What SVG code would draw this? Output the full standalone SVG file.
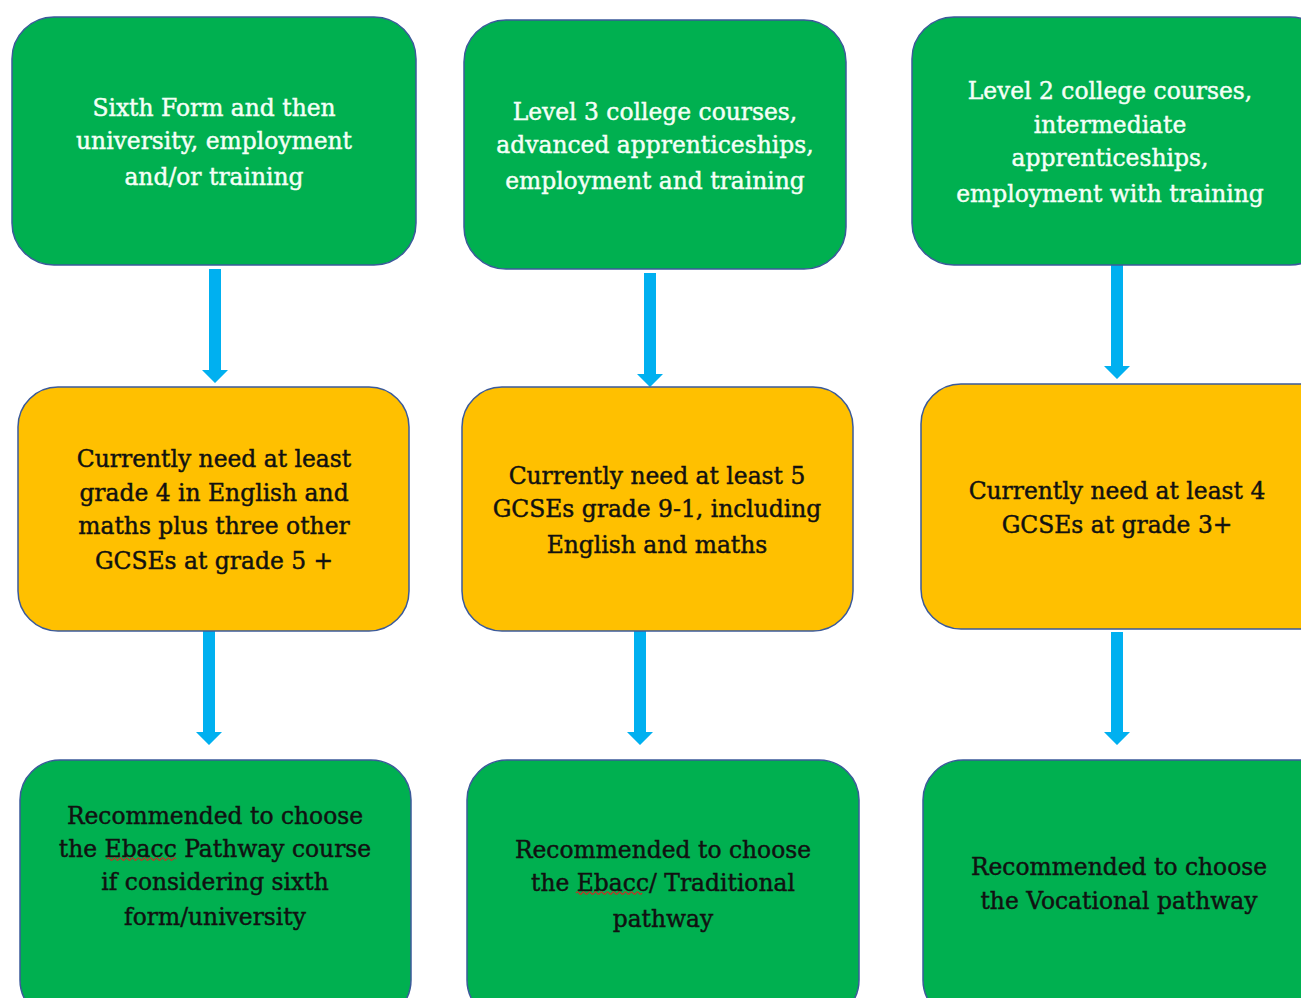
<svg xmlns="http://www.w3.org/2000/svg" width="1301" height="998" viewBox="0 0 1301 998">
<defs>
<style>
.g{fill:#00B050;stroke:#3B5A9A;stroke-width:1.5}
.y{fill:#FFC000;stroke:#3B5A9A;stroke-width:1.5}
text{font-family:"DejaVu Serif","Liberation Serif",serif;font-size:23.4px;text-anchor:middle;stroke-width:0.45px}
.w{fill:#F4FFF6;stroke:#F4FFF6}
.k{fill:#111111;stroke:#111111}
.arr{fill:#00B0F0}
.sq{fill:none;stroke:#E02020;stroke-width:1.2}
</style>
</defs>
<rect width="1301" height="998" fill="#FFFFFF"/>
<g id="connectors">
<path class="arr" d="M209 269 H221 V370 H228 L215 383 L202 370 H209 Z"/>
<path class="arr" d="M644 273 H656 V374 H663 L650 387 L637 374 H644 Z"/>
<path class="arr" d="M1111 265 H1123 V366 H1130 L1117 379 L1104 366 H1111 Z"/>
<path class="arr" d="M203 631 H215 V732 H222 L209 745 L196 732 H203 Z"/>
<path class="arr" d="M634 631 H646 V732 H653 L640 745 L627 732 H634 Z"/>
<path class="arr" d="M1111 632 H1123 V732 H1130 L1117 745 L1104 732 H1111 Z"/>
</g>
<g id="n1">
<rect class="g" x="12" y="17" width="404" height="248" rx="42"/>
<text class="w" x="214" y="116">Sixth Form and then</text>
<text class="w" x="214" y="149">university, employment</text>
<text class="w" x="214" y="185">and/or training</text>
</g>
<g id="n2">
<rect class="g" x="464" y="20" width="382" height="249" rx="42"/>
<text class="w" x="655" y="120">Level 3 college courses,</text>
<text class="w" x="655" y="153">advanced apprenticeships,</text>
<text class="w" x="655" y="189">employment and training</text>
</g>
<g id="n3">
<rect class="g" x="912" y="17" width="420" height="248" rx="42"/>
<text class="w" x="1110" y="99">Level 2 college courses,</text>
<text class="w" x="1110" y="133">intermediate</text>
<text class="w" x="1110" y="166">apprenticeships,</text>
<text class="w" x="1110" y="202">employment with training</text>
</g>
<g id="n4">
<rect class="y" x="18" y="387" width="391" height="244" rx="40"/>
<text class="k" x="214" y="467">Currently need at least</text>
<text class="k" x="214" y="501">grade 4 in English and</text>
<text class="k" x="214" y="534">maths plus three other</text>
<text class="k" x="214" y="569">GCSEs at grade 5 +</text>
</g>
<g id="n5">
<rect class="y" x="462" y="387" width="391" height="244" rx="40"/>
<text class="k" x="657" y="484">Currently need at least 5</text>
<text class="k" x="657" y="517">GCSEs grade 9-1, including</text>
<text class="k" x="657" y="553">English and maths</text>
</g>
<g id="n6">
<rect class="y" x="921" y="384" width="420" height="245" rx="40"/>
<text class="k" x="1117" y="499">Currently need at least 4</text>
<text class="k" x="1117" y="533">GCSEs at grade 3+</text>
</g>
<g id="n7">
<rect class="g" x="20" y="760" width="391" height="260" rx="40"/>
<text class="k" x="215" y="824">Recommended to choose</text>
<text class="k" x="215" y="857">the Ebacc Pathway course</text>
<text class="k" x="215" y="890">if considering sixth</text>
<text class="k" x="215" y="925">form/university</text>
<path class="sq" d="M107 859 q1.5 -2.5 3 0 t3 0 t3 0 t3 0 t3 0 t3 0 t3 0 t3 0 t3 0 t3 0 t3 0 t3 0 t3 0 t3 0 t3 0 t3 0 t3 0 t3 0 t3 0 t3 0 t3 0 t3 0 t3 0"/>
</g>
<g id="n8">
<rect class="g" x="467" y="760" width="392" height="260" rx="40"/>
<text class="k" x="663" y="858">Recommended to choose</text>
<text class="k" x="663" y="891">the Ebacc/ Traditional</text>
<text class="k" x="663" y="927">pathway</text>
<path class="sq" d="M576 893 q1.5 -2.5 3 0 t3 0 t3 0 t3 0 t3 0 t3 0 t3 0 t3 0 t3 0 t3 0 t3 0 t3 0 t3 0 t3 0 t3 0 t3 0 t3 0 t3 0 t3 0 t3 0 t3 0 t3 0"/>
</g>
<g id="n9">
<rect class="g" x="923" y="760" width="420" height="260" rx="40"/>
<text class="k" x="1119" y="875">Recommended to choose</text>
<text class="k" x="1119" y="909">the Vocational pathway</text>
</g>
</svg>
